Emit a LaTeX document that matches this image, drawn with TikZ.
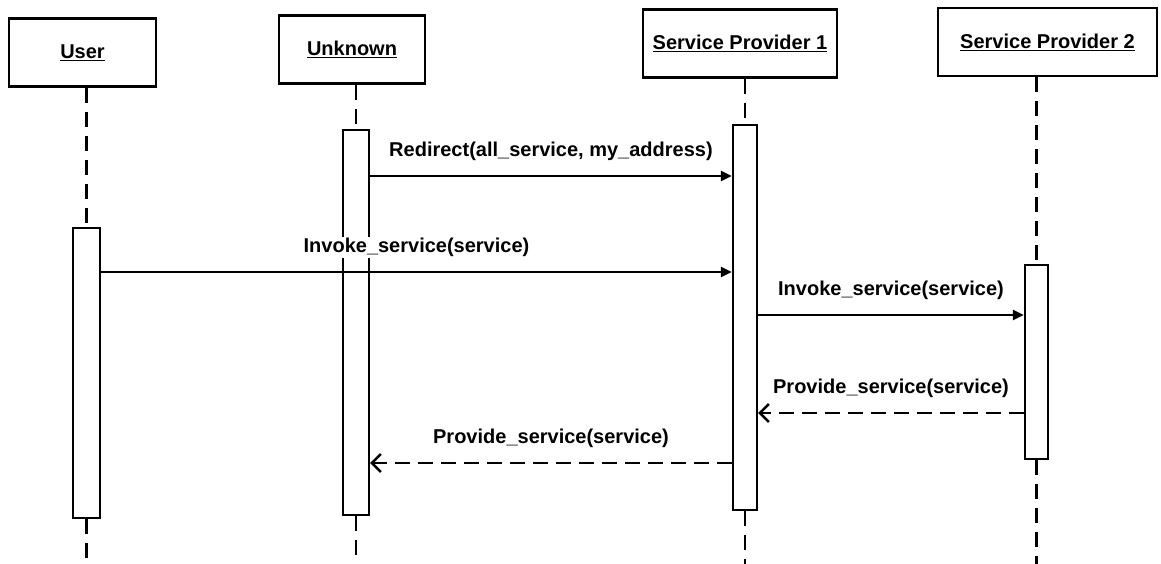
\documentclass[tikz,border=0pt]{standalone}
\usepackage{fontspec}
\setmainfont{Liberation Sans}
\usetikzlibrary{arrows.meta, positioning, calc}

\begin{document}
\begin{tikzpicture}[
  x=1pt, y=-1pt,
  actor/.style={
    draw, line width=2.4pt, fill=white,
    font=\fontsize{20pt}{24pt}\selectfont\bfseries,
    minimum height=68pt, inner sep=2pt
  },
  actbar/.style={
    draw, line width=2.4pt, fill=white,
    minimum width=25pt, inner sep=0pt
  },
  life/.style={line width=2.6pt, dash pattern=on 15pt off 9pt},
  msg/.style={-{Triangle[length=11pt,width=10pt]}, line width=2.4pt},
  rmsg/.style={-{Straight Barb[length=9pt,width=18pt]}, line width=2.4pt,
    dash pattern=on 15pt off 8pt},
  lbl/.style={font=\fontsize{20pt}{24pt}\selectfont\bfseries, above=13pt,
    midway, fill=white, inner sep=1pt}
]
\useasboundingbox (0,0) rectangle (1161,564);

%% ═══ OBJECTS ═══
\node[actor, minimum width=147pt] (user) at (82.5,52.5) {\underline{User}};
\node[actor, minimum width=146pt] (unk) at (352,49.5) {\underline{Unknown}};
\node[actor, minimum width=194pt] (sp1) at (740,43.5) {\underline{Service Provider 1}};
\node[actor, minimum width=219pt] (sp2) at (1047.5,42) {\underline{Service Provider 2}};

%% ═══ ACTIVATIONS ═══
\node[actbar, minimum width=27pt, minimum height=290pt] (ua) at (86.5,373) {};
\node[actbar, minimum width=26pt, minimum height=385pt] (ka) at (356,322.5) {};
\node[actbar, minimum width=24pt, minimum height=385pt] (s1a) at (745,317.5) {};
\node[actbar, minimum width=23pt, minimum height=194pt] (s2a) at (1036.5,362) {};

%% ═══ LIFELINES ═══
\coordinate (foot) at (0,564);
\draw[life] (ua |- user.south) -- (ua.north);
\draw[life] (ua.south) -- (ua |- foot);
\draw[life] (ka |- unk.south) -- (ka.north);
\draw[life] (ka.south) -- (ka |- foot);
\draw[life] (s1a |- sp1.south) -- (s1a.north);
\draw[life] (s1a.south) -- (s1a |- foot);
\draw[life] (s2a |- sp2.south) -- (s2a.north);
\draw[life] (s2a.south) -- (s2a |- foot);

%% ═══ MESSAGES ═══
\coordinate (m1) at (0,176);
\coordinate (m2) at (0,272);
\coordinate (m3) at (0,315);
\coordinate (m4) at (0,413);
\coordinate (m5) at (0,463);

\draw[msg] (ka.east |- m1) -- (s1a.west |- m1)
  node[lbl] {Redirect(all\_service, my\_address)};
\draw[msg] (ua.east |- m2) -- (s1a.west |- m2)
  node[lbl] {Invoke\_service(service)};
\draw[msg] (s1a.east |- m3) -- (s2a.west |- m3)
  node[lbl] {Invoke\_service(service)};
\draw[rmsg] (s2a.west |- m4) -- (s1a.east |- m4)
  node[lbl] {Provide\_service(service)};
\draw[rmsg] (s1a.west |- m5) -- (ka.east |- m5)
  node[lbl] {Provide\_service(service)};

\end{tikzpicture}
\end{document}
